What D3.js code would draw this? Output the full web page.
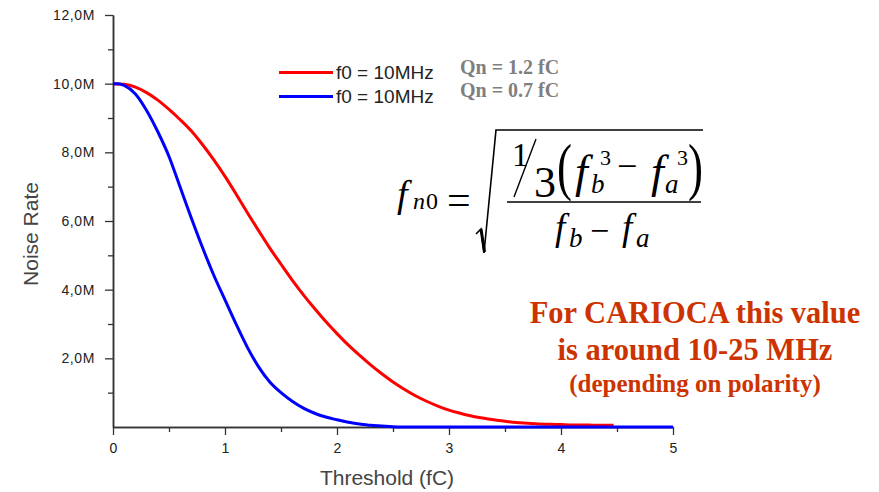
<!DOCTYPE html>
<html>
<head>
<meta charset="utf-8">
<script src="https://cdn.jsdelivr.net/npm/d3@7"></script>
<style>
  body { margin: 0; background: #fff; }
  svg { display: block; }
</style>
</head>
<body>
<div id="chart"></div>
<script>
// threshold in fC, noise rate in MHz (M)
const redThreshold = [0, 0.1, 0.2, 0.3, 0.4, 0.5, 0.6, 0.7, 0.8, 0.9, 1.0, 1.1, 1.2, 1.3, 1.4, 1.5, 1.6, 1.7, 1.8, 1.9,
  2.0, 2.1, 2.2, 2.3, 2.4, 2.5, 2.6, 2.7, 2.8, 2.9, 3.0, 3.1, 3.2, 3.3, 3.4, 3.5, 3.6, 3.7, 3.8, 3.9, 4.0, 4.1, 4.2, 4.3, 4.4, 4.47];
const redRate = [10.0, 9.98, 9.90, 9.74, 9.52, 9.25, 8.95, 8.62, 8.22, 7.78, 7.30, 6.78, 6.24, 5.72, 5.21, 4.74, 4.28, 3.85, 3.45, 3.07,
  2.72, 2.39, 2.09, 1.81, 1.55, 1.31, 1.10, 0.91, 0.75, 0.61, 0.49, 0.40, 0.32, 0.26, 0.21, 0.17, 0.13, 0.11, 0.09, 0.08, 0.07, 0.06, 0.06, 0.05, 0.05, 0.05];

const blueThreshold = [0, 0.05, 0.1, 0.2, 0.3, 0.4, 0.5, 0.6, 0.7, 0.8, 0.9, 1.0, 1.1, 1.2, 1.3, 1.4, 1.5, 1.6, 1.7, 1.8, 1.9,
  2.0, 2.1, 2.2, 2.3, 2.4, 2.5, 2.6, 5.0];
const blueRate = [10.0, 10.0, 9.95, 9.70, 9.22, 8.60, 7.88, 6.98, 6.08, 5.22, 4.42, 3.70, 2.99, 2.32, 1.75, 1.31, 1.00, 0.75, 0.55, 0.40, 0.29,
  0.21, 0.14, 0.09, 0.05, 0.03, 0.01, 0.0, 0.0];

const legendLabels = ['f0 = 10MHz', 'f0 = 10MHz'];
const legendNotes = ['Qn = 1.2 fC', 'Qn = 0.7 fC'];
const seriesColors = ['#ff0000', '#0000ff'];

const xMajorTicks = [0, 1, 2, 3, 4, 5];
const xMinorTicks = [0.5, 1.5, 2.5, 3.5, 4.5];
const yMajorTicks = [2, 4, 6, 8, 10, 12];
const yMinorTicks = [1, 3, 5, 7, 9, 11];

const noteLines = ['For CARIOCA this value', 'is around 10-25 MHz', '(depending on polarity)'];

const W = 879, H = 492;
const margin = { top: 15, right: 206, bottom: 65, left: 113 };
const width = W - margin.left - margin.right;
const height = H - margin.top - margin.bottom;

const svg = d3.select('#chart').append('svg')
  .attr('width', W)
  .attr('height', H);

const g = svg.append('g')
  .attr('transform', `translate(${margin.left},${margin.top})`);

const x = d3.scaleLinear().domain([0, 5]).range([0, width]);
const y = d3.scaleLinear().domain([0, 12]).range([height, 0]);

const fmt = d => d.toFixed(1).replace('.', ',') + 'M';
const axisColor = '#333';

// minor ticks first, then the labelled ones
g.append('g')
  .attr('transform', `translate(0,${height})`)
  .call(d3.axisBottom(x).tickValues(xMinorTicks).tickSize(5).tickFormat('').tickSizeOuter(0));
g.append('g')
  .attr('class', 'x-axis')
  .attr('transform', `translate(0,${height})`)
  .call(d3.axisBottom(x).tickValues(xMajorTicks).tickSize(8).tickFormat(d3.format('d')).tickSizeOuter(0));

g.append('g')
  .call(d3.axisLeft(y).tickValues(yMinorTicks).tickSize(5).tickFormat('').tickSizeOuter(0));
g.append('g')
  .attr('class', 'y-axis')
  .call(d3.axisLeft(y).tickValues(yMajorTicks).tickSize(8).tickFormat(fmt).tickSizeOuter(0));

g.selectAll('.domain').attr('stroke', axisColor).attr('stroke-width', 1.5);
g.selectAll('.tick line').attr('stroke', axisColor).attr('stroke-width', 1.3);

g.select('.x-axis').selectAll('text')
  .attr('dy', null)
  .attr('y', 26)
  .style('font-family', 'Arial, "Liberation Sans", sans-serif')
  .style('font-size', '14px')
  .attr('fill', '#222');

g.select('.y-axis').selectAll('text')
  .attr('x', -18)
  .style('font-family', 'Arial, "Liberation Sans", sans-serif')
  .style('font-size', '14px')
  .style('letter-spacing', '0.6px')
  .attr('fill', '#222');

// axis titles
g.append('text')
  .attr('x', 274)
  .attr('y', height + 58)
  .attr('text-anchor', 'middle')
  .style('font-family', 'Arial, "Liberation Sans", sans-serif')
  .style('font-size', '21px')
  .attr('fill', '#444')
  .text('Threshold (fC)');

g.append('text')
  .attr('transform', 'rotate(-90)')
  .attr('x', -(234 - margin.top))
  .attr('y', 38 - margin.left)
  .attr('text-anchor', 'middle')
  .style('font-family', 'Arial, "Liberation Sans", sans-serif')
  .style('font-size', '21px')
  .attr('fill', '#444')
  .text('Noise Rate');

// curves
const line = d3.line()
  .x(d => x(d[0]))
  .y(d => y(d[1]))
  .curve(d3.curveMonotoneX);

const redData = redThreshold.map((t, i) => [t, redRate[i]]);
const blueData = blueThreshold.map((t, i) => [t, blueRate[i]]);

g.append('path')
  .datum(redData)
  .attr('fill', 'none')
  .attr('stroke', seriesColors[0])
  .attr('stroke-width', 3)
  .attr('d', line);

g.append('path')
  .datum(blueData)
  .attr('fill', 'none')
  .attr('stroke', seriesColors[1])
  .attr('stroke-width', 3)
  .attr('d', line);

// legend
const legend = svg.append('g');
legendLabels.forEach((lbl, i) => {
  const ly = 72.5 + i * 24;
  legend.append('line')
    .attr('x1', 279).attr('x2', 333)
    .attr('y1', ly).attr('y2', ly)
    .attr('stroke', seriesColors[i])
    .attr('stroke-width', 3);
  legend.append('text')
    .attr('x', 336)
    .attr('y', ly + 6)
    .style('font-family', 'Arial, "Liberation Sans", sans-serif')
    .style('font-size', '19px')
    .attr('fill', '#222')
    .text(lbl);
  legend.append('text')
    .attr('x', 460)
    .attr('y', 74 + i * 23)
    .style('font-family', '"Times New Roman", "Liberation Serif", serif')
    .style('font-weight', 'bold')
    .style('font-size', '20px')
    .attr('fill', '#7f7f7f')
    .text(legendNotes[i]);
});

// formula f_n0 = sqrt( 1/3 (fb^3 - fa^3) / (fb - fa) )
const eq = svg.append('g')
  .style('font-family', '"Times New Roman", "Liberation Serif", serif')
  .attr('fill', '#000');

function put(txt, px, py, size, italic) {
  eq.append('text')
    .attr('x', px).attr('y', py)
    .style('font-size', size + 'px')
    .style('font-style', italic ? 'italic' : 'normal')
    .text(txt);
}

function paren(txt, px, py) {
  eq.append('text')
    .attr('x', px).attr('y', py)
    .style('font-size', '50px')
    .attr('transform', `translate(${px},${py}) scale(0.9,1.25) translate(${-px},${-py})`)
    .text(txt);
}

put('f', 397, 207, 38, true);
put('n', 413, 209, 24, true);
put('0', 426, 209, 24, false);
put('=', 447, 214, 42, false);

eq.append('path')
  .attr('d', 'M476,234 L481,229 L484,253 L496,130 L703,130')
  .attr('fill', 'none')
  .attr('stroke', '#000')
  .attr('stroke-width', 1.6)
  .attr('stroke-linejoin', 'miter');
eq.append('path')
  .attr('d', 'M481,229 L484.5,252')
  .attr('stroke', '#000')
  .attr('stroke-width', 3);

put('1', 512, 166, 33, false);
eq.append('line')
  .attr('x1', 514).attr('y1', 197)
  .attr('x2', 536).attr('y2', 139)
  .attr('stroke', '#000').attr('stroke-width', 1.4);
put('3', 534, 197, 44, false);
paren('(', 557, 188);
put('f', 575, 187, 46, true);
put('b', 591, 193, 27, true);
put('3', 600, 165, 22, false);
put('\u2212', 617, 178, 36, false);
put('f', 651, 187, 46, true);
put('a', 665, 193, 27, true);
put('3', 677, 165, 22, false);
paren(')', 688, 188);

eq.append('line')
  .attr('x1', 507).attr('x2', 701)
  .attr('y1', 202).attr('y2', 202)
  .attr('stroke', '#000').attr('stroke-width', 1.6);

put('f', 555, 240, 37, true);
put('b', 569, 247, 27, true);
put('\u2212', 590, 242, 34, false);
put('f', 622, 240, 37, true);
put('a', 636, 247, 27, true);

// annotation
const note = svg.append('g')
  .style('font-family', '"Garamond", "Times New Roman", "Liberation Serif", serif')
  .style('font-weight', 'bold')
  .attr('fill', '#cc3300')
  .attr('text-anchor', 'middle');
note.append('text').attr('x', 695).attr('y', 323).style('font-size', '30.5px').text(noteLines[0]);
note.append('text').attr('x', 695).attr('y', 360).style('font-size', '30.5px').text(noteLines[1]);
note.append('text').attr('x', 695).attr('y', 392).style('font-size', '25px').text(noteLines[2]);
</script>
</body>
</html>
